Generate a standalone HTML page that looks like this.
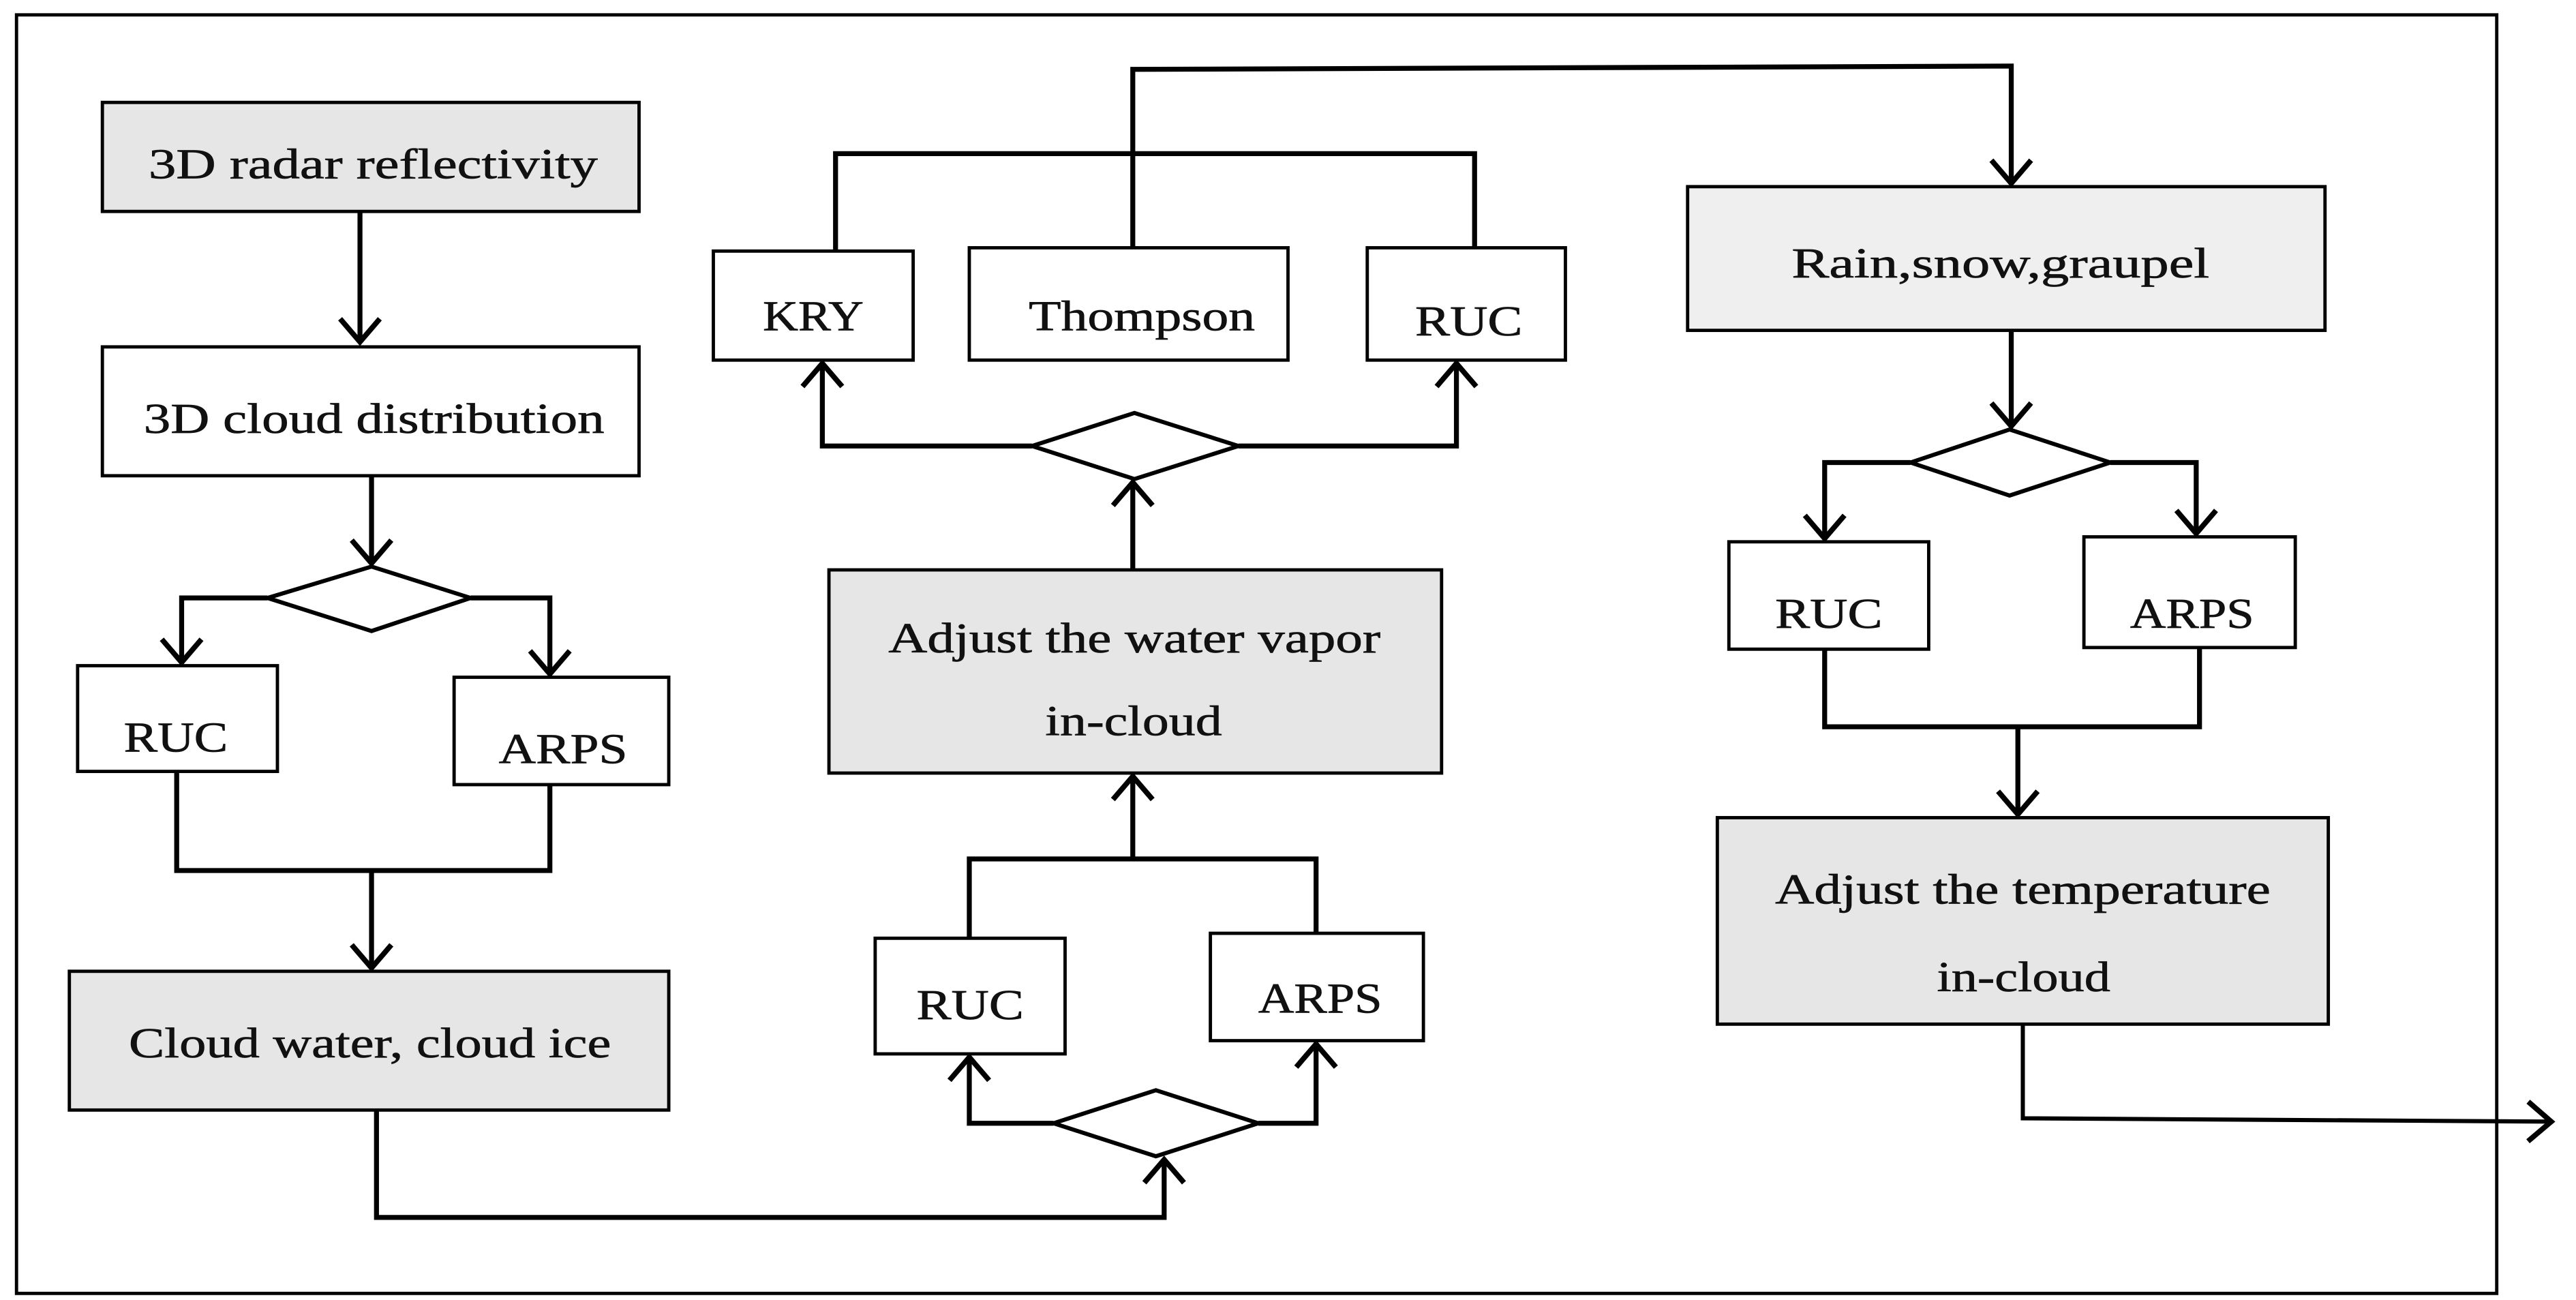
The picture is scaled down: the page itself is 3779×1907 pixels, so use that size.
<!DOCTYPE html>
<html><head><meta charset="utf-8"><style>html,body{margin:0;padding:0;background:#fff}svg{display:block}</style></head>
<body>
<svg width="3779" height="1907" viewBox="0 0 1560 787" preserveAspectRatio="none" xmlns="http://www.w3.org/2000/svg">
<defs>
<marker id="a" markerUnits="userSpaceOnUse" markerWidth="34" markerHeight="34" refX="16" refY="14" orient="auto">
<path d="M2,2 L16,14 L2,26" fill="none" stroke="#000" stroke-width="3.2"/>
</marker>
</defs>
<g fill="none" stroke="#000" stroke-width="2">
<rect x="10" y="9" width="1502" height="774"/>
</g>
<g stroke="#000" stroke-width="2">
<rect x="62" y="62" width="325" height="66" fill="#e6e6e6"/>
<rect x="62" y="210" width="325" height="78" fill="#fff"/>
<rect x="47" y="403" width="121" height="64" fill="#fff"/>
<rect x="275" y="410" width="130" height="65" fill="#fff"/>
<rect x="42" y="588" width="363" height="84" fill="#e6e6e6"/>
<rect x="530" y="568" width="115" height="70" fill="#fff"/>
<rect x="733" y="565" width="129" height="65" fill="#fff"/>
<rect x="502" y="345" width="371" height="123" fill="#e6e6e6"/>
<rect x="432" y="152" width="121" height="66" fill="#fff"/>
<rect x="587" y="150" width="193" height="68" fill="#fff"/>
<rect x="828" y="150" width="120" height="68" fill="#fff"/>
<rect x="1022" y="113" width="386" height="87" fill="#efefef"/>
<rect x="1047" y="328" width="121" height="65" fill="#fff"/>
<rect x="1262" y="325" width="128" height="67" fill="#fff"/>
<rect x="1040" y="495" width="370" height="125" fill="#e6e6e6"/>
</g>
<g fill="#fff" stroke="#000" stroke-width="2.5">
<polygon points="162,362 225,343 285,362 225,382"/>
<polygon points="638,680 700,660 762,680 700,700"/>
<polygon points="625,270 687,250 750,270 687,290"/>
<polygon points="1157,280 1217,260 1278,280 1217,300"/>
</g>
<g fill="none" stroke="#000" stroke-width="3" stroke-linejoin="miter">
<path d="M218,128 V207" marker-end="url(#a)"/>
<path d="M225,288 V341" marker-end="url(#a)"/>
<path d="M162,362 H110 V401" marker-end="url(#a)"/>
<path d="M285,362 H333 V408" marker-end="url(#a)"/>
<path d="M107,467 V527 H333 V475"/>
<path d="M225,527 V586" marker-end="url(#a)"/>
<path d="M228,672 V737 H705 V702" marker-end="url(#a)"/>
<path d="M638,680 H587 V640" marker-end="url(#a)"/>
<path d="M762,680 H797 V632" marker-end="url(#a)"/>
<path d="M587,568 V520 H797 V565"/>
<path d="M686,520 V470" marker-end="url(#a)"/>
<path d="M686,345 V292" marker-end="url(#a)"/>
<path d="M625,270 H498 V220" marker-end="url(#a)"/>
<path d="M750,270 H882 V220" marker-end="url(#a)"/>
<path d="M506,152 V93 H893 V150"/>
<path d="M686,150 V42 L1218,40 V111" marker-end="url(#a)"/>
<path d="M1218,200 V258" marker-end="url(#a)"/>
<path d="M1157,280 H1105 V326" marker-end="url(#a)"/>
<path d="M1278,280 H1330 V323" marker-end="url(#a)"/>
<path d="M1105,393 V440 H1332 V392"/>
<path d="M1222,440 V493" marker-end="url(#a)"/>
<path d="M1225,620 V677 L1545,679" stroke-width="2.5" marker-end="url(#a)"/>
</g>
<g font-family="Liberation Serif, serif" font-size="26" fill="#111" stroke="#111" stroke-width="0.3">
<text x="90" y="108" textLength="272" lengthAdjust="spacingAndGlyphs">3D radar reflectivity</text>
<text x="87" y="262" textLength="279" lengthAdjust="spacingAndGlyphs">3D cloud distribution</text>
<text x="75" y="455" textLength="63" lengthAdjust="spacingAndGlyphs">RUC</text>
<text x="302" y="462" textLength="78" lengthAdjust="spacingAndGlyphs">ARPS</text>
<text x="78" y="640" textLength="292" lengthAdjust="spacingAndGlyphs">Cloud water, cloud ice</text>
<text x="462" y="200" textLength="61" lengthAdjust="spacingAndGlyphs">KRY</text>
<text x="623" y="200" textLength="137" lengthAdjust="spacingAndGlyphs">Thompson</text>
<text x="857" y="203" textLength="65" lengthAdjust="spacingAndGlyphs">RUC</text>
<text x="538" y="395" textLength="298" lengthAdjust="spacingAndGlyphs">Adjust the water vapor</text>
<text x="633" y="445" textLength="107" lengthAdjust="spacingAndGlyphs">in-cloud</text>
<text x="555" y="617" textLength="65" lengthAdjust="spacingAndGlyphs">RUC</text>
<text x="762" y="613" textLength="75" lengthAdjust="spacingAndGlyphs">ARPS</text>
<text x="1085" y="168" textLength="253" lengthAdjust="spacingAndGlyphs">Rain,snow,graupel</text>
<text x="1075" y="380" textLength="65" lengthAdjust="spacingAndGlyphs">RUC</text>
<text x="1290" y="380" textLength="75" lengthAdjust="spacingAndGlyphs">ARPS</text>
<text x="1075" y="547" textLength="300" lengthAdjust="spacingAndGlyphs">Adjust the temperature</text>
<text x="1173" y="600" textLength="105" lengthAdjust="spacingAndGlyphs">in-cloud</text>
</g>
</svg>
</body></html>
